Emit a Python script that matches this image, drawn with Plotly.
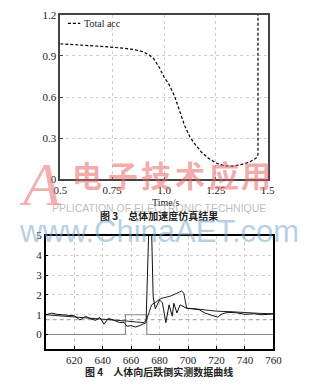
import plotly.graph_objects as go

# ---------------- data: Figure 3 (simulation) ----------------
t_sim = [0.5, 0.6, 0.7, 0.8, 0.855, 0.9, 0.93, 0.95, 0.977, 1.0, 1.025, 1.05, 1.075,
         1.1, 1.125, 1.15, 1.18, 1.214, 1.25, 1.29, 1.33, 1.367, 1.41, 1.444, 1.453, 1.453]
acc_sim = [0.988, 0.98, 0.969, 0.957, 0.946, 0.93, 0.905, 0.88, 0.817, 0.746, 0.69, 0.61, 0.5,
           0.39, 0.31, 0.255, 0.2, 0.155, 0.12, 0.099, 0.097, 0.106, 0.125, 0.155, 0.18, 1.2]
sim_name = "Total acc"
x1_ticks = [0.5, 0.75, 1.0, 1.25, 1.5]
x1_text = ["0.5", "0.75", "1.0", "1.25", "1.5"]
y1_ticks = [0, 0.3, 0.6, 0.9, 1.2]
y1_text = ["0", "0.3", "0.6", "0.9", "1.2"]

# ---------------- data: Figure 4 (measured) ----------------
t_raw = [600, 604, 608, 612, 616, 620, 624, 628, 632, 635, 638, 641, 644, 648, 652, 655,
         657, 660, 663, 666, 669, 670.5, 673.5, 675.5, 677, 680, 682, 684.4, 686.7, 688.9,
         690, 692.2, 694.4, 696.7, 698.9, 703, 708, 712, 716, 720.7, 724, 728, 734, 740,
         746, 752, 760]
v_raw = [1.0, 1.08, 1.02, 0.98, 0.97, 0.95, 0.74, 0.92, 0.78, 0.72, 0.86, 0.52, 0.82, 0.72,
         0.6, 0.62, 0.42, 0.45, 0.38, 0.45, 0.55, 0.6, 8.0, 1.9, 1.3, 1.75, 1.6, 0.6, 1.5, 0.93,
         1.58, 1.09, 1.5, 1.41, 1.33, 1.3, 1.25, 1.08, 0.98, 0.88, 1.05, 1.12, 1.1, 1.02,
         1.05, 1.0, 1.04]
t_smooth = [600, 610, 620, 630, 640, 650, 657, 664, 669, 671, 674.4, 677.8, 681, 688,
            695.5, 697, 699, 705, 713, 720, 731, 740, 750, 760]
v_smooth = [1.0, 0.95, 0.9, 0.85, 0.79, 0.73, 0.68, 0.63, 0.6, 0.77, 1.5, 1.66, 1.82, 1.95,
            2.2, 2.1, 1.33, 1.3, 1.25, 1.18, 1.15, 1.1, 1.07, 1.05]
t_pulse = [600, 656, 656, 671, 671, 760]
v_pulse = [0, 0, 1, 1, 0, 0]
threshold = 0.75
x2_ticks = [620, 640, 660, 680, 700, 720, 740, 760]
y2_ticks = [0, 1, 2, 3, 4, 5]

W, H = 330, 385
def px(x):
    return x / W
def py(y):
    return 1 - y / H

SERIF = "Liberation Serif"
CJK = "Noto Sans CJK SC"

fig = go.Figure()
fig.add_trace(go.Scatter(x=t_sim, y=acc_sim, mode="lines", name=sim_name,
                         line=dict(color="black", width=1.2, dash="3px,2px"),
                         xaxis="x", yaxis="y", showlegend=False))

fig.add_trace(go.Scatter(x=[600, 760], y=[threshold, threshold], mode="lines",
                         line=dict(color="#9a9a9a", width=1, dash="4px,3px"),
                         xaxis="x2", yaxis="y2", showlegend=False))
fig.add_trace(go.Scatter(x=t_pulse, y=v_pulse, mode="lines",
                         line=dict(color="#8a8a8a", width=1.2),
                         xaxis="x2", yaxis="y2", showlegend=False))
fig.add_trace(go.Scatter(x=t_smooth, y=v_smooth, mode="lines",
                         line=dict(color="#222", width=1),
                         xaxis="x2", yaxis="y2", showlegend=False))
fig.add_trace(go.Scatter(x=t_raw, y=v_raw, mode="lines",
                         line=dict(color="#111", width=1),
                         xaxis="x2", yaxis="y2", showlegend=False))

axis_common = dict(showline=True, mirror=True, ticks="inside", ticklen=3,
                   showgrid=True, gridcolor="#cfcfcf", griddash="dot", gridwidth=1,
                   zeroline=False, tickfont=dict(family=SERIF, size=11, color="#222"))

fig.update_layout(
    width=W, height=H, margin=dict(l=0, r=0, t=0, b=0),
    paper_bgcolor="white", plot_bgcolor="white", showlegend=False,
    xaxis=dict(domain=[px(56), px(274)], range=[0.5, 1.5], tickvals=x1_ticks, ticktext=x1_text,
               anchor="y", linecolor="#444", linewidth=1.5, tickcolor="#444", **axis_common),
    yaxis=dict(domain=[py(179), py(9)], range=[0, 1.2], tickvals=y1_ticks, ticktext=y1_text,
               anchor="x", linecolor="#444", linewidth=1.5, tickcolor="#444", **axis_common),
    xaxis2=dict(domain=[px(40.7), px(280)], range=[600, 760], tickvals=x2_ticks,
                anchor="y2", linecolor="black", linewidth=1.5, tickcolor="black", **axis_common),
    yaxis2=dict(domain=[py(354), py(237)], range=[-0.73, 5], tickvals=y2_ticks,
                anchor="x2", linecolor="black", linewidth=1.5, tickcolor="black", **axis_common),
)

# manual legend
fig.add_shape(type="line", xref="paper", yref="paper", x0=px(64), x1=px(77), y0=py(18), y1=py(18),
              line=dict(color="black", width=1.2, dash="3px,2px"))
annots = [
    dict(x=px(79), y=py(18), text=sim_name, xanchor="left", font=dict(family=SERIF, size=10, color="#222")),
    dict(x=px(167), y=py(203), text="Time/s", font=dict(family=SERIF, size=10, color="#222")),
    dict(x=px(160), y=py(216), text="<b>图 3　总体加速度仿真结果</b>", font=dict(family=CJK, size=10, color="#222")),
    dict(x=px(160), y=py(377), text="<b>图 4　人体向后跌倒实测数据曲线</b>", font=dict(family=CJK, size=10, color="#222")),
    # watermarks
    dict(x=px(160), y=py(208), text="PPLICATION OF ELECTRONIC TECHNIQUE",
         font=dict(family="Liberation Sans", size=10.5, color="rgba(160,160,160,0.7)")),
    dict(x=px(160), y=py(233), text="www.ChinaAET.com",
         font=dict(family="Liberation Sans", size=31, color="rgba(120,170,205,0.55)")),
    dict(x=px(35), y=py(184), text="<i>A</i>",
         font=dict(family=SERIF, size=62, color="rgba(235,110,110,0.55)")),
]
for ch, xc in zip("电子技术应用", [84, 122, 157, 192, 228, 262]):
    annots.append(dict(x=px(xc), y=py(173), text="<b>" + ch + "</b>",
                       font=dict(family=CJK, size=30, color="rgba(232,100,100,0.55)")))
for a in annots:
    a.setdefault("xanchor", "center")
    a.update(xref="paper", yref="paper", showarrow=False, yanchor="middle")
fig.update_layout(annotations=annots)

fig.write_html("out.html")
